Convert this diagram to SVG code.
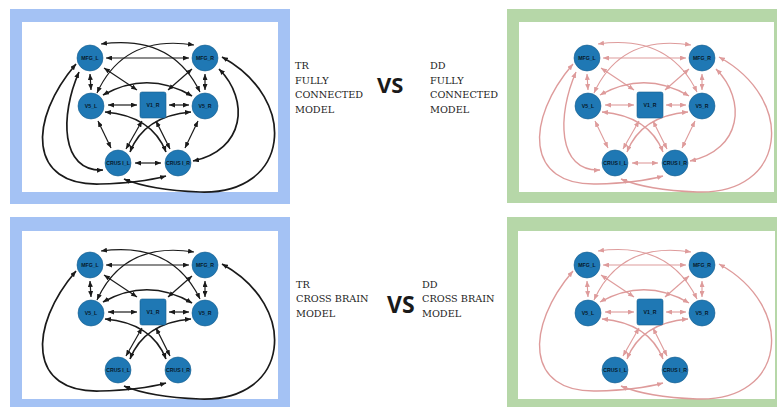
<svg xmlns="http://www.w3.org/2000/svg" width="777" height="408" viewBox="0 0 777 408">
  <style>
    .bg { fill: #ffffff; }
    .frame-tr { fill: #a4c2f4; }
    .frame-dd { fill: #b6d7a8; }
    .inner { fill: #ffffff; }
    .node circle, .node rect { fill: #1f78b4; stroke: #1a5f8e; stroke-width: 0.6; }
    .node text { font-family: "Liberation Sans", Arial, sans-serif; font-size: 5.2px; font-weight: bold; fill: #07192a; text-anchor: middle; dominant-baseline: central; }
    .ek { fill: none; stroke: #1a1a1a; stroke-width: 1.2; marker-start: url(#ak); marker-end: url(#ak); }
    .ek.w { stroke-width: 1.7; }
    .ep { fill: none; stroke: #de9b9b; stroke-width: 1.1; marker-start: url(#ap); marker-end: url(#ap); }
    .ep.w { stroke-width: 1.4; }
    .cap { font-family: "DejaVu Serif", "Liberation Serif", serif; font-size: 9.7px; fill: #222222; }
    .vs { font-family: "Open Sans", "Liberation Sans", sans-serif; font-weight: bold; fill: #1a1a1a; }
  </style>
  <defs>
    <marker id="ak" viewBox="0 0 6 5" refX="6" refY="2.5" markerWidth="6" markerHeight="5" markerUnits="userSpaceOnUse" orient="auto-start-reverse">
      <path d="M0,0 L6,2.5 L0,5 z" fill="#1a1a1a"/>
    </marker>
    <marker id="ap" viewBox="0 0 6 5" refX="6" refY="2.5" markerWidth="6" markerHeight="5" markerUnits="userSpaceOnUse" orient="auto-start-reverse">
      <path d="M0,0 L6,2.5 L0,5 z" fill="#de9b9b"/>
    </marker>
  </defs>

  <rect class="bg" x="0" y="0" width="777" height="408"/>

  <!-- panel frames -->
  <rect class="frame-tr" x="10" y="9" width="280" height="195"/>
  <rect class="inner" x="22" y="22" width="256" height="170"/>
  <rect class="frame-dd" x="507" y="9" width="270" height="194"/>
  <rect class="inner" x="519" y="22" width="255" height="170"/>
  <rect class="frame-tr" x="10" y="217" width="280" height="190"/>
  <rect class="inner" x="22" y="231" width="256" height="168"/>
  <rect class="frame-dd" x="507" y="217" width="270" height="190"/>
  <rect class="inner" x="518" y="231" width="257" height="168"/>

  <!-- captions -->
  <g id="captions">
    <text class="cap" x="295" y="69">TR</text>
    <text class="cap" x="295" y="83.5">FULLY</text>
    <text class="cap" x="295" y="98">CONNECTED</text>
    <text class="cap" x="295" y="112.5">MODEL</text>
    <text class="vs" x="377" y="93" font-size="22">VS</text>
    <text class="cap" x="430" y="69">DD</text>
    <text class="cap" x="430" y="83.5">FULLY</text>
    <text class="cap" x="430" y="98">CONNECTED</text>
    <text class="cap" x="430" y="112.5">MODEL</text>

    <text class="cap" x="296" y="288">TR</text>
    <text class="cap" x="296" y="302">CROSS BRAIN</text>
    <text class="cap" x="296" y="316.5">MODEL</text>
    <text class="vs" x="387" y="313" font-size="23">VS</text>
    <text class="cap" x="422" y="288">DD</text>
    <text class="cap" x="422" y="302">CROSS BRAIN</text>
    <text class="cap" x="422" y="316.5">MODEL</text>
  </g>

  <!-- TR fully connected model -->
  <g id="tr-full">
    <g id="tr-full-connectors">
      <path class="ek" d="M106,58 L189,58"/>
      <path class="ek" d="M90,74 L91,90"/>
      <path class="ek" d="M205,74 L205,90"/>
      <path class="ek" d="M108,105 L137,105"/>
      <path class="ek" d="M169,105 L189,105"/>
      <path class="ek" d="M135,163 L161,163"/>
      <path class="ek" d="M98,121 L111,148"/>
      <path class="ek" d="M198,121 L185,148"/>
      <path class="ek" d="M104,68 L137,90"/>
      <path class="ek" d="M192,69 L168,90"/>
      <path class="ek" d="M142,121 L126,149"/>
      <path class="ek" d="M156,121 L170,149"/>
      <path class="ek w" d="M103,95 Q148,70 192,96"/>
      <path class="ek" d="M101,44 Q172,34 200,92"/>
      <path class="ek" d="M97,93 Q124,34 194,45"/>
      <path class="ek w" d="M105,112 Q152,116 166,152"/>
      <path class="ek w" d="M191,112 Q144,116 130,152"/>
      <path class="ek w" d="M79,72 C60,115 60,172 103,170"/>
      <path class="ek w" d="M76,64 C28,120 28,186 100,184 Q140,183 166,176"/>
      <path class="ek w" d="M219,69 C250,100 245,150 193,161"/>
      <path class="ek w" d="M222,57 C300,100 290,195 200,192 Q150,190 124,179"/>
    </g>
    <g id="tr-full-mfg-l" class="node"><circle cx="90" cy="58" r="13"/><text x="90" y="58">MFG_L</text></g>
    <g id="tr-full-mfg-r" class="node"><circle cx="205" cy="58" r="13"/><text x="205" y="58">MFG_R</text></g>
    <g id="tr-full-v5-l" class="node"><circle cx="91" cy="106" r="13"/><text x="91" y="106">V5_L</text></g>
    <g id="tr-full-v1-r" class="node"><rect x="140" y="92" width="26" height="26" rx="2"/><text x="153" y="105">V1_R</text></g>
    <g id="tr-full-v5-r" class="node"><circle cx="205" cy="106" r="13"/><text x="205" y="106">V5_R</text></g>
    <g id="tr-full-crus-l" class="node"><circle cx="118" cy="163" r="13"/><text x="118" y="163">CRUS I_L</text></g>
    <g id="tr-full-crus-r" class="node"><circle cx="178" cy="163" r="13"/><text x="178" y="163">CRUS I_R</text></g>
  </g>

  <!-- DD fully connected model -->
  <g id="dd-full" transform="translate(497,0)">
    <g id="dd-full-connectors">
      <path class="ep" d="M106,58 L189,58"/>
      <path class="ep" d="M90,74 L91,90"/>
      <path class="ep" d="M205,74 L205,90"/>
      <path class="ep" d="M108,105 L137,105"/>
      <path class="ep" d="M169,105 L189,105"/>
      <path class="ep" d="M135,163 L161,163"/>
      <path class="ep" d="M98,121 L111,148"/>
      <path class="ep" d="M198,121 L185,148"/>
      <path class="ep" d="M104,68 L137,90"/>
      <path class="ep" d="M192,69 L168,90"/>
      <path class="ep" d="M142,121 L126,149"/>
      <path class="ep" d="M156,121 L170,149"/>
      <path class="ep w" d="M103,95 Q148,70 192,96"/>
      <path class="ep" d="M101,44 Q172,34 200,92"/>
      <path class="ep" d="M97,93 Q124,34 194,45"/>
      <path class="ep w" d="M105,112 Q152,116 166,152"/>
      <path class="ep w" d="M191,112 Q144,116 130,152"/>
      <path class="ep w" d="M79,72 C60,115 60,172 103,170"/>
      <path class="ep w" d="M76,64 C28,120 28,186 100,184 Q140,183 166,176"/>
      <path class="ep w" d="M219,69 C250,100 245,150 193,161"/>
      <path class="ep w" d="M222,57 C300,100 290,195 200,192 Q150,190 124,179"/>
    </g>
    <g id="dd-full-mfg-l" class="node"><circle cx="90" cy="58" r="13"/><text x="90" y="58">MFG_L</text></g>
    <g id="dd-full-mfg-r" class="node"><circle cx="205" cy="58" r="13"/><text x="205" y="58">MFG_R</text></g>
    <g id="dd-full-v5-l" class="node"><circle cx="91" cy="106" r="13"/><text x="91" y="106">V5_L</text></g>
    <g id="dd-full-v1-r" class="node"><rect x="140" y="92" width="26" height="26" rx="2"/><text x="153" y="105">V1_R</text></g>
    <g id="dd-full-v5-r" class="node"><circle cx="205" cy="106" r="13"/><text x="205" y="106">V5_R</text></g>
    <g id="dd-full-crus-l" class="node"><circle cx="118" cy="163" r="13"/><text x="118" y="163">CRUS I_L</text></g>
    <g id="dd-full-crus-r" class="node"><circle cx="178" cy="163" r="13"/><text x="178" y="163">CRUS I_R</text></g>
  </g>

  <!-- TR cross brain model -->
  <g id="tr-cross" transform="translate(0,207)">
    <g id="tr-cross-connectors">
      <path class="ek" d="M106,58 L189,58"/>
      <path class="ek" d="M90,74 L91,90"/>
      <path class="ek" d="M205,74 L205,90"/>
      <path class="ek" d="M108,105 L137,105"/>
      <path class="ek" d="M169,105 L189,105"/>
      <path class="ek" d="M104,68 L137,90"/>
      <path class="ek" d="M192,69 L168,90"/>
      <path class="ek" d="M142,121 L126,149"/>
      <path class="ek" d="M156,121 L170,149"/>
      <path class="ek w" d="M103,95 Q148,70 192,96"/>
      <path class="ek" d="M101,44 Q172,34 200,92"/>
      <path class="ek" d="M97,93 Q124,34 194,45"/>
      <path class="ek w" d="M105,112 Q152,116 166,152"/>
      <path class="ek w" d="M191,112 Q144,116 130,152"/>
      <path class="ek w" d="M76,64 C28,120 28,186 100,184 Q140,183 166,176"/>
      <path class="ek w" d="M222,57 C300,100 290,195 200,192 Q150,190 124,179"/>
    </g>
    <g id="tr-cross-mfg-l" class="node"><circle cx="90" cy="58" r="13"/><text x="90" y="58">MFG_L</text></g>
    <g id="tr-cross-mfg-r" class="node"><circle cx="205" cy="58" r="13"/><text x="205" y="58">MFG_R</text></g>
    <g id="tr-cross-v5-l" class="node"><circle cx="91" cy="106" r="13"/><text x="91" y="106">V5_L</text></g>
    <g id="tr-cross-v1-r" class="node"><rect x="140" y="92" width="26" height="26" rx="2"/><text x="153" y="105">V1_R</text></g>
    <g id="tr-cross-v5-r" class="node"><circle cx="205" cy="106" r="13"/><text x="205" y="106">V5_R</text></g>
    <g id="tr-cross-crus-l" class="node"><circle cx="118" cy="163" r="13"/><text x="118" y="163">CRUS I_L</text></g>
    <g id="tr-cross-crus-r" class="node"><circle cx="178" cy="163" r="13"/><text x="178" y="163">CRUS I_R</text></g>
  </g>

  <!-- DD cross brain model -->
  <g id="dd-cross" transform="translate(497,207)">
    <g id="dd-cross-connectors">
      <path class="ep" d="M106,58 L189,58"/>
      <path class="ep" d="M90,74 L91,90"/>
      <path class="ep" d="M205,74 L205,90"/>
      <path class="ep" d="M108,105 L137,105"/>
      <path class="ep" d="M169,105 L189,105"/>
      <path class="ep" d="M104,68 L137,90"/>
      <path class="ep" d="M192,69 L168,90"/>
      <path class="ep" d="M142,121 L126,149"/>
      <path class="ep" d="M156,121 L170,149"/>
      <path class="ep w" d="M103,95 Q148,70 192,96"/>
      <path class="ep" d="M101,44 Q172,34 200,92"/>
      <path class="ep" d="M97,93 Q124,34 194,45"/>
      <path class="ep w" d="M105,112 Q152,116 166,152"/>
      <path class="ep w" d="M191,112 Q144,116 130,152"/>
      <path class="ep w" d="M76,64 C28,120 28,186 100,184 Q140,183 166,176"/>
      <path class="ep w" d="M222,57 C300,100 290,195 200,192 Q150,190 124,179"/>
    </g>
    <g id="dd-cross-mfg-l" class="node"><circle cx="90" cy="58" r="13"/><text x="90" y="58">MFG_L</text></g>
    <g id="dd-cross-mfg-r" class="node"><circle cx="205" cy="58" r="13"/><text x="205" y="58">MFG_R</text></g>
    <g id="dd-cross-v5-l" class="node"><circle cx="91" cy="106" r="13"/><text x="91" y="106">V5_L</text></g>
    <g id="dd-cross-v1-r" class="node"><rect x="140" y="92" width="26" height="26" rx="2"/><text x="153" y="105">V1_R</text></g>
    <g id="dd-cross-v5-r" class="node"><circle cx="205" cy="106" r="13"/><text x="205" y="106">V5_R</text></g>
    <g id="dd-cross-crus-l" class="node"><circle cx="118" cy="163" r="13"/><text x="118" y="163">CRUS I_L</text></g>
    <g id="dd-cross-crus-r" class="node"><circle cx="178" cy="163" r="13"/><text x="178" y="163">CRUS I_R</text></g>
  </g>
</svg>
